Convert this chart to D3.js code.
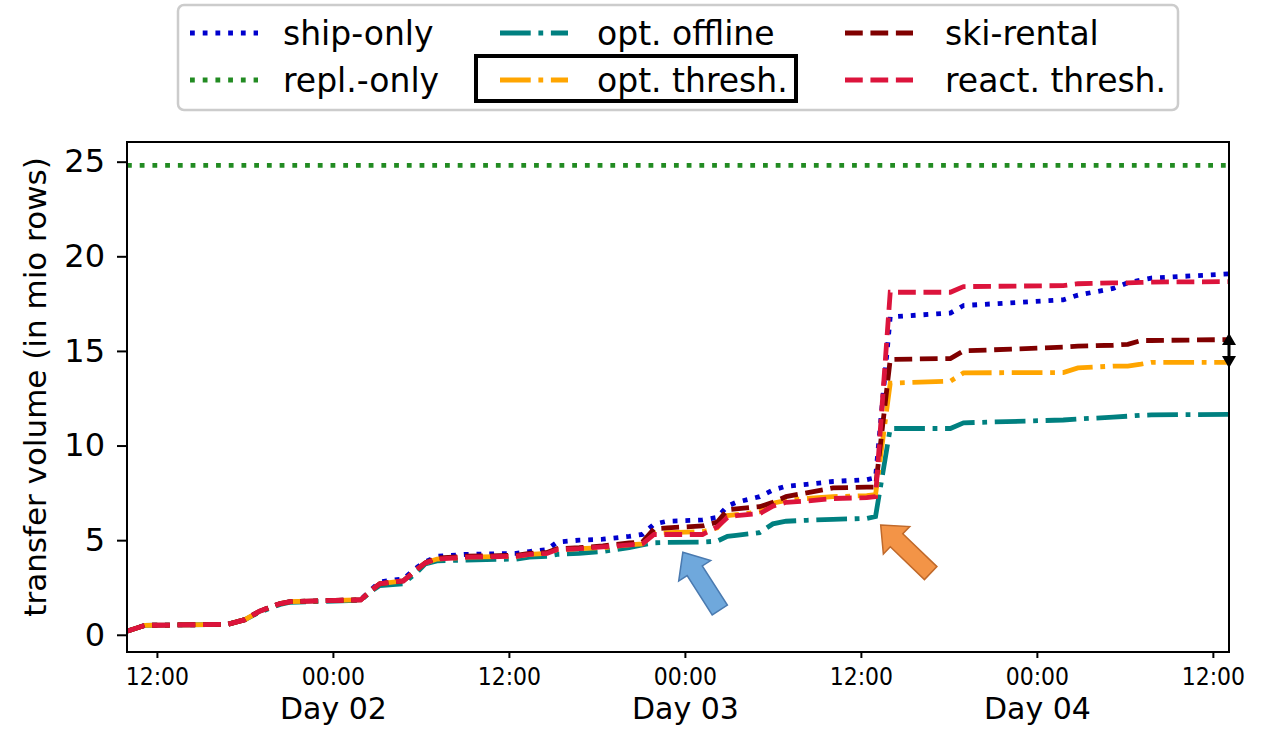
<!DOCTYPE html>
<html><head><meta charset="utf-8">
<script src="https://cdn.jsdelivr.net/npm/d3@7"></script>
<style>body{margin:0;background:#fff;} text{font-family:"DejaVu Sans",sans-serif;fill:#000;}</style>
</head><body><svg id="c" width="1267" height="731"></svg>
<script>
// ---- data (hours since Day 01 00:00) ----
const hours = [10.0, 11.2, 16.8, 18.0, 19.0, 20.4, 21.1, 25.9, 26.7, 27.2, 28.8, 29.8,
  30.3, 31.1, 33.1, 36.5, 37.4, 38.6, 39.3, 40.8, 42.4, 44.2, 45.1, 45.9, 46.8, 49.2,
  50.2, 50.9, 51.5, 53.1, 54.0, 54.9, 56.3, 58.1, 60.4, 61.0, 62.0, 66.1, 67.0, 73.8,
  74.8, 77.2, 78.2, 79.1, 79.8, 85.1];
const shipOnly = [0.2, 0.5, 0.55, 0.8, 1.25, 1.65, 1.75, 1.85, 2.45, 2.8, 2.95, 3.6,
  3.85, 4.15, 4.25, 4.3, 4.4, 4.5, 4.9, 5.0, 5.05, 5.2, 5.3, 5.85, 6.0, 6.07, 6.2, 6.8,
  7.0, 7.3, 7.65, 7.85, 7.95, 8.1, 8.2, 8.3, 16.8, 17.0, 17.4, 17.7, 17.95, 18.3, 18.6,
  18.75, 18.85, 19.07];
const replHours = [9.96, 85.1];
const replOnly = [24.8, 24.8];
const optOffline = [0.2, 0.5, 0.55, 0.8, 1.2, 1.6, 1.72, 1.82, 2.35, 2.6, 2.7, 3.35,
  3.75, 3.9, 3.95, 4.0, 4.1, 4.15, 4.25, 4.3, 4.4, 4.6, 4.75, 4.86, 4.88, 4.9, 4.95, 5.2,
  5.25, 5.4, 5.86, 6.0, 6.05, 6.1, 6.15, 6.25, 10.9, 10.9, 11.2, 11.35, 11.4, 11.5, 11.55,
  11.6, 11.62, 11.65];
const optThresh = [0.2, 0.5, 0.55, 0.8, 1.25, 1.65, 1.75, 1.85, 2.4, 2.7, 2.85, 3.5,
  3.8, 4.0, 4.1, 4.15, 4.25, 4.3, 4.5, 4.55, 4.6, 4.75, 4.8, 5.35, 5.4, 5.45, 5.65, 6.3,
  6.35, 6.5, 6.95, 7.1, 7.2, 7.3, 7.35, 7.4, 13.3, 13.4, 13.84, 13.86, 14.1, 14.2, 14.2,
  14.3, 14.4, 14.4];
const skiRental = [0.2, 0.5, 0.55, 0.8, 1.25, 1.65, 1.75, 1.85, 2.4, 2.7, 2.85, 3.5,
  3.8, 4.05, 4.15, 4.2, 4.3, 4.35, 4.55, 4.6, 4.7, 4.85, 4.9, 5.6, 5.65, 5.75, 5.95, 6.6,
  6.65, 6.77, 7.0, 7.3, 7.5, 7.76, 7.8, 7.8, 14.55, 14.6, 15.0, 15.2, 15.25, 15.3, 15.35,
  15.55, 15.55, 15.6];
const reactThresh = [0.2, 0.5, 0.55, 0.8, 1.25, 1.65, 1.75, 1.85, 2.4, 2.7, 2.85, 3.5,
  3.8, 4.0, 4.1, 4.15, 4.25, 4.3, 4.5, 4.55, 4.65, 4.75, 4.8, 5.3, 5.3, 5.3, 5.7, 6.2,
  6.3, 6.4, 6.8, 7.0, 7.07, 7.2, 7.25, 7.3, 18.1, 18.1, 18.4, 18.45, 18.55, 18.6, 18.6,
  18.62, 18.64, 18.66];
const seriesNames = ["ship-only", "repl.-only", "opt. offline", "opt. thresh.", "ski-rental", "react. thresh."];
const yTicks = [0, 5, 10, 15, 20, 25];
const xTickHours = [12, 24, 36, 48, 60, 72, 84];
const dayTickHours = [24, 48, 72];
// annotation arrows: [tipHour, tipValue, tailHour, tailValue]
const blueArrow = [47.86, 4.36, 50.38, 1.31];
const orangeArrow = [61.35, 5.8, 64.76, 3.26];
const gapArrow = [85.1, 15.95, 14.1];

// ---- setup ----
const base = Date.UTC(2020, 0, 1);
const toDate = h => new Date(base + h * 3600e3);
const L = 127, R = 1229, T = 142, B = 652;
const x = d3.scaleUtc().domain([toDate(9.96), toDate(85.1)]).range([L, R]);
const y = d3.scaleLinear().domain([-0.91, 26.04]).range([B, T]);
const svg = d3.select("#c");
const lw = 4.8;
const styles = {
  dotted: `${lw},${lw*1.65}`,
  dashed: `${lw*3.7},${lw*1.6}`,
  dashdot: `${lw*6.4},${lw*1.6},${lw},${lw*1.6}`
};
const series = [
  {name: seriesNames[0], t: hours, v: shipOnly, color: "#0000cd", dash: styles.dotted},
  {name: seriesNames[1], t: replHours, v: replOnly, color: "#228b22", dash: styles.dotted},
  {name: seriesNames[2], t: hours, v: optOffline, color: "#008080", dash: styles.dashdot},
  {name: seriesNames[3], t: hours, v: optThresh, color: "#ffa500", dash: styles.dashdot},
  {name: seriesNames[4], t: hours, v: skiRental, color: "#800000", dash: styles.dashed},
  {name: seriesNames[5], t: hours, v: reactThresh, color: "#dc143c", dash: styles.dashed}
];

svg.append("defs").append("clipPath").attr("id", "clip")
  .append("rect").attr("x", L).attr("y", T).attr("width", R - L).attr("height", B - T);

const line = d3.line().x(d => x(toDate(d[0]))).y(d => y(d[1]));
const plot = svg.append("g").attr("clip-path", "url(#clip)");
series.forEach(s => {
  plot.append("path").datum(s.t.map((h, i) => [h, s.v[i]]))
    .attr("d", line).attr("fill", "none").attr("stroke", s.color)
    .attr("stroke-width", lw).attr("stroke-dasharray", s.dash);
});

// arrows
function blockArrow(a, fill, stroke) {
  const tx = x(toDate(a[0])), ty = y(a[1]);
  const ex = x(toDate(a[2])), ey = y(a[3]);
  const len = Math.hypot(ex - tx, ey - ty);
  const ang = Math.atan2(ey - ty, ex - tx) * 180 / Math.PI;
  const hl = 22, hw = 38, sw = 18;
  const pts = [[0,0],[hl,-hw/2],[hl,-sw/2],[len,-sw/2],[len,sw/2],[hl,sw/2],[hl,hw/2]];
  svg.append("polygon").attr("points", pts.map(p => p.join(",")).join(" "))
    .attr("transform", `translate(${tx},${ty}) rotate(${ang})`)
    .attr("fill", fill).attr("stroke", stroke).attr("stroke-width", 1.5).attr("stroke-linejoin", "miter");
}
blockArrow(blueArrow, "#6fa8dc", "#4a7ab0");
blockArrow(orangeArrow, "#f39447", "#c0692a");

// frame
svg.append("rect").attr("x", L).attr("y", T).attr("width", R - L).attr("height", B - T)
  .attr("fill", "none").attr("stroke", "#000").attr("stroke-width", 2);

// double arrow at right
{
  const gx = x(toDate(gapArrow[0])), y1 = y(gapArrow[1]), y2 = y(gapArrow[2]);
  const hh = 12, hw = 7;
  svg.append("line").attr("x1", gx).attr("x2", gx).attr("y1", y1 + hh).attr("y2", y2 - hh)
    .attr("stroke", "#000").attr("stroke-width", 3);
  svg.append("polygon").attr("points", `${gx},${y1} ${gx-hw},${y1+hh} ${gx+hw},${y1+hh}`).attr("fill", "#000");
  svg.append("polygon").attr("points", `${gx},${y2} ${gx-hw},${y2-hh} ${gx+hw},${y2-hh}`).attr("fill", "#000");
}

// axes
const yAx = svg.append("g").attr("transform", `translate(${L},0)`)
  .call(d3.axisLeft(y).tickValues(yTicks).tickSize(10).tickPadding(12));
yAx.select(".domain").remove();
yAx.selectAll("line").attr("stroke-width", 2);
yAx.selectAll("text").style("font-size", "32px").style("font-family", "DejaVu Sans");

const xAx = svg.append("g").attr("transform", `translate(0,${B})`)
  .call(d3.axisBottom(x).tickValues(xTickHours.map(toDate)).tickSize(6).tickPadding(9)
    .tickFormat(d3.utcFormat("%H:%M")));
xAx.select(".domain").remove();
xAx.selectAll("line").attr("stroke-width", 2);
xAx.selectAll("text").style("font-size", "25px").style("font-family", "DejaVu Sans")
  .attr("transform", "scale(0.88,1)");

const dAx = svg.append("g").attr("transform", `translate(0,${B})`)
  .call(d3.axisBottom(x).tickValues(dayTickHours.map(toDate)).tickSize(0).tickPadding(46)
    .tickFormat(d => "Day " + d3.utcFormat("%d")(d)));
dAx.select(".domain").remove();
dAx.selectAll("text").style("font-size", "30px").style("font-family", "DejaVu Sans");

svg.append("text").attr("transform", `translate(46,387) rotate(-90)`)
  .attr("text-anchor", "middle").style("font-size", "31px").text("transfer volume (in mio rows)");

// legend
const lg = svg.append("g");
lg.append("rect").attr("x", 178).attr("y", 5).attr("width", 1000).attr("height", 105)
  .attr("rx", 6).attr("fill", "#fff").attr("stroke", "#cccccc").attr("stroke-width", 2.5);
const colX = [190, 500, 845], textX = [283, 597, 945], rowY = [33, 80];
series.forEach((s, i) => {
  const c = Math.floor(i / 2), r = i % 2;
  lg.append("line").attr("x1", colX[c]).attr("x2", colX[c] + 68).attr("y1", rowY[r]).attr("y2", rowY[r])
    .attr("stroke", s.color).attr("stroke-width", lw).attr("stroke-dasharray", s.dash);
  lg.append("text").attr("x", textX[c]).attr("y", rowY[r]).attr("dy", "0.35em")
    .style("font-size", "33px").text(s.name);
});
lg.append("rect").attr("x", 476).attr("y", 56).attr("width", 320).attr("height", 45)
  .attr("fill", "none").attr("stroke", "#000").attr("stroke-width", 4);
</script></body></html>
